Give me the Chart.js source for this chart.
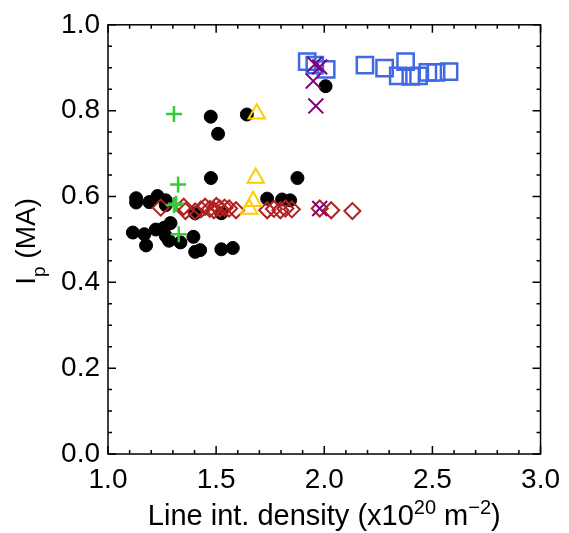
<!DOCTYPE html>
<html>
<head>
<meta charset="utf-8">
<script src="https://cdn.jsdelivr.net/npm/chart.js@4/dist/chart.umd.min.js"></script>
<style>
  body { margin: 0; background: #fff; }
  #wrap { width: 569px; height: 533px; position: relative; }
</style>
</head>
<body>
<div id="wrap"><canvas id="chart"></canvas></div>
<script>
// values
const xTicks = [1.0, 1.5, 2.0, 2.5, 3.0];
const yTicks = [0.0, 0.2, 0.4, 0.6, 0.8, 1.0];

const circleX = [1.475, 1.642, 1.509, 1.476, 1.876, 1.130, 1.130, 1.191, 1.229, 1.267, 1.267, 1.736, 1.805, 1.842, 1.403, 1.524,
    1.115, 1.168, 1.176, 1.221, 1.259, 1.289, 1.267, 1.282, 1.335, 1.395, 1.403, 1.426, 1.524, 1.577, 2.006];
const circleY = [0.786, 0.791, 0.746, 0.643, 0.643, 0.596, 0.586, 0.587, 0.601, 0.591, 0.580, 0.595, 0.593, 0.591, 0.561, 0.561,
    0.516, 0.512, 0.486, 0.523, 0.527, 0.538, 0.508, 0.497, 0.493, 0.506, 0.471, 0.475, 0.477, 0.480, 0.857];

const plusX = [1.305, 1.324, 1.315, 1.305, 1.327];
const plusY = [0.792, 0.628, 0.583, 0.580, 0.512];

const triX = [1.688, 1.683, 1.671, 1.653];
const triY = [0.793, 0.643, 0.589, 0.571];

const diamondX = [1.244, 1.350, 1.358, 1.403, 1.430, 1.449, 1.471, 1.490, 1.501, 1.517, 1.539, 1.560, 1.592,
    1.736, 1.767, 1.797, 1.820, 1.850, 1.979, 2.032, 2.130];
const diamondY = [0.574, 0.576, 0.566, 0.565, 0.570, 0.576, 0.571, 0.568, 0.578, 0.572, 0.574, 0.572, 0.568,
    0.568, 0.571, 0.568, 0.572, 0.570, 0.572, 0.568, 0.566];

const squareX = [1.921, 1.956, 2.009, 2.188, 2.279, 2.376, 2.342, 2.400, 2.436, 2.479, 2.517, 2.577];
const squareY = [0.914, 0.906, 0.896, 0.906, 0.899, 0.914, 0.881, 0.880, 0.881, 0.889, 0.889, 0.891];

const crossX = [1.956, 1.979, 1.949, 1.961, 1.979];
const crossY = [0.908, 0.902, 0.869, 0.811, 0.572];

const FONT = 'Liberation Sans, Arial, sans-serif';

function pts(xs, ys) {
    let out = [];
    for (let i = 0; i < xs.length; i++) {
        out.push({x: xs[i], y: ys[i]});
    }
    return out;
}

// pieces: [text, size, baseline shift]
function drawPieces(ctx, pieces, x0, y0) {
    let w = 0;
    for (const p of pieces) {
        ctx.font = p[1] + 'px ' + FONT;
        w += ctx.measureText(p[0]).width;
    }
    let x = x0 - w / 2;
    for (const p of pieces) {
        ctx.font = p[1] + 'px ' + FONT;
        ctx.fillText(p[0], x, y0 + p[2]);
        x += ctx.measureText(p[0]).width;
    }
}

// inward ticks on all four sides, the frame, and the axis titles
const frame = {
    id: 'frame',
    afterDraw(chart) {
        const ctx = chart.ctx;
        const a = chart.chartArea;
        const xs = chart.scales.x, ys = chart.scales.y;
        ctx.save();
        ctx.strokeStyle = '#000';
        ctx.lineWidth = 1.5;
        ctx.strokeRect(a.left, a.top, a.right - a.left, a.bottom - a.top);
        ctx.beginPath();
        for (let i = 0; i <= 20; i++) {
            const v = 1 + i * 0.1;
            const len = (i % 5 === 0) ? 8 : 4;
            const px = xs.getPixelForValue(v);
            ctx.moveTo(px, a.bottom); ctx.lineTo(px, a.bottom - len);
            ctx.moveTo(px, a.top); ctx.lineTo(px, a.top + len);
        }
        for (let i = 0; i <= 20; i++) {
            const v = i * 0.05;
            const len = (i % 4 === 0) ? 8 : 4;
            const py = ys.getPixelForValue(v);
            ctx.moveTo(a.left, py); ctx.lineTo(a.left + len, py);
            ctx.moveTo(a.right, py); ctx.lineTo(a.right - len, py);
        }
        ctx.stroke();

        ctx.fillStyle = '#000';
        ctx.textBaseline = 'alphabetic';
        ctx.textAlign = 'left';
        drawPieces(ctx, [
            ['Line int. density (x10', 29, 0],
            ['20', 20, -11],
            [' m', 29, 0],
            ['\u22122', 20, -11],
            [')', 29, 0]
        ], (a.left + a.right) / 2, 525);

        ctx.translate(35, (a.top + a.bottom) / 2 + 2);
        ctx.rotate(-Math.PI / 2);
        drawPieces(ctx, [
            ['I', 28, 0],
            ['p', 19, 10],
            [' (MA)', 28, 0]
        ], 0, 0);
        ctx.restore();
    }
};

const ctx = document.getElementById('chart').getContext('2d');
const chart = new Chart(ctx, {
    type: 'scatter',
    data: {
        datasets: [
            {
                label: 'cross',
                data: pts(crossX, crossY),
                pointStyle: 'crossRot',
                pointRadius: 10.5,
                borderColor: '#800080',
                backgroundColor: '#800080',
                pointBorderWidth: 2
            },
            {
                label: 'plus',
                data: pts(plusX, plusY),
                pointStyle: 'cross',
                pointRadius: 8,
                borderColor: '#33cc33',
                backgroundColor: '#33cc33',
                pointBorderWidth: 2.5
            },
            {
                label: 'triangle',
                data: pts(triX, triY),
                pointStyle: 'triangle',
                pointRadius: 9.5,
                borderColor: '#ffcc00',
                backgroundColor: 'rgba(0,0,0,0)',
                pointBorderWidth: 2
            },
            {
                label: 'diamond',
                data: pts(diamondX, diamondY),
                pointStyle: 'rectRot',
                pointRadius: 8,
                borderColor: '#b22222',
                backgroundColor: 'rgba(0,0,0,0)',
                pointBorderWidth: 2
            },
            {
                label: 'square',
                data: pts(squareX, squareY),
                pointStyle: 'rect',
                pointRadius: 11.5,
                borderColor: '#4169e1',
                backgroundColor: 'rgba(0,0,0,0)',
                pointBorderWidth: 2.5
            },
            {
                label: 'circle',
                data: pts(circleX, circleY),
                pointStyle: 'circle',
                pointRadius: 6.5,
                borderColor: '#000',
                backgroundColor: '#000',
                pointBorderWidth: 1
            }
        ]
    },
    options: {
        responsive: true,
        maintainAspectRatio: false,
        animation: false,
        layout: { padding: { top: 10, right: 21, left: 0, bottom: 0 } },
        plugins: {
            legend: { display: false },
            tooltip: { enabled: false }
        },
        scales: {
            x: {
                type: 'linear',
                min: 1,
                max: 3,
                afterBuildTicks: s => { s.ticks = xTicks.map(v => ({value: v})); },
                afterFit: s => { s.height = 79; },
                grid: { display: false, drawTicks: false },
                border: { display: false },
                ticks: {
                    padding: 9,
                    color: '#000',
                    font: { family: FONT, size: 28 },
                    callback: v => v.toFixed(1)
                },
                title: { display: false }
            },
            y: {
                type: 'linear',
                min: 0,
                max: 1,
                afterBuildTicks: s => { s.ticks = yTicks.map(v => ({value: v})); },
                afterFit: s => { s.width = 108; },
                grid: { display: false, drawTicks: false },
                border: { display: false },
                ticks: {
                    padding: 8,
                    color: '#000',
                    font: { family: FONT, size: 28 },
                    callback: v => v.toFixed(1)
                },
                title: { display: false }
            }
        }
    },
    plugins: [frame]
});
</script>
</body>
</html>
